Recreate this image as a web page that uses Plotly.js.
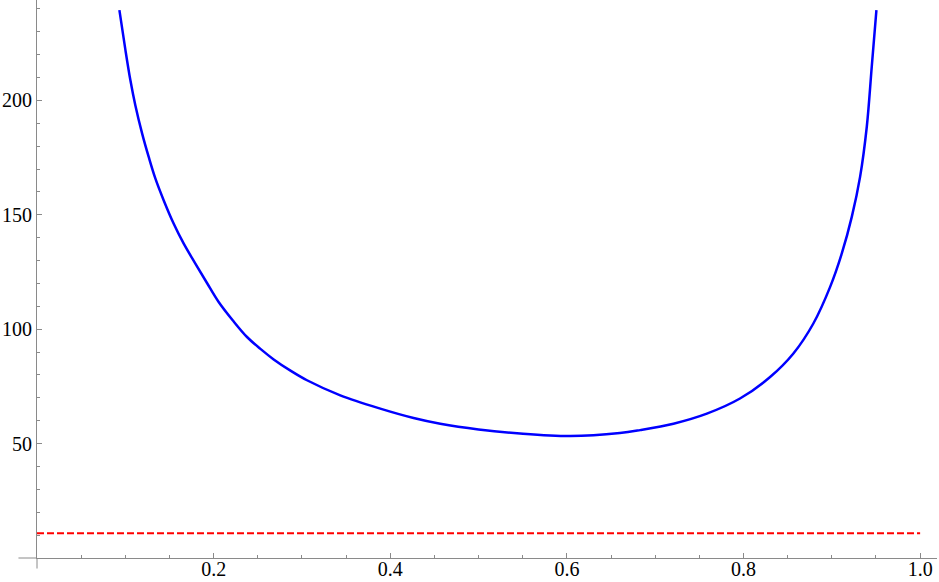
<!DOCTYPE html>
<html>
<head>
<meta charset="utf-8">
<script src="https://cdn.plot.ly/plotly-3.0.1.min.js"></script>
<style>html,body{margin:0;padding:0;background:#fff;}#chart{width:939px;height:582px;}</style>
</head>
<body>
<div id="chart"></div>
<script>
// Blue curve
const curveX = [0.0933, 0.1001, 0.1057, 0.1114, 0.1190, 0.1264, 0.1340, 0.1434, 0.1547, 0.1660, 0.1793, 0.1925, 0.2057, 0.2218, 0.2378, 0.2530, 0.268, 0.2870, 0.3057, 0.3434, 0.3887, 0.4264, 0.4566, 0.50, 0.547, 0.604, 0.660, 0.683, 0.7207, 0.7585, 0.796, 0.8301, 0.8565, 0.8791, 0.8981, 0.9113, 0.9226, 0.9320, 0.9396, 0.9452, 0.9505];
const curveY = [239.5, 222.1, 208.9, 197.8, 185.6, 175.4, 165.9, 156.4, 146.2, 137.5, 128.7, 120.2, 111.9, 103.8, 96.6, 91.4, 86.8, 81.9, 77.7, 71.1, 65.3, 61.2, 58.7, 56.2, 54.4, 53.3, 54.6, 55.9, 58.7, 63.1, 69.7, 79.1, 89.4, 102.5, 118.5, 133.1, 149.1, 166.6, 188.5, 214.7, 239.5];
// Red dashed reference level
const refX = [0, 1.0];
const refY = [10.8, 10.8];
// Tick labels
const xTicks = [0.2, 0.4, 0.6, 0.8, 1.0];
const xTickText = ['0.2', '0.4', '0.6', '0.8', '1.0'];
const yTicks = [50, 100, 150, 200];
const yTickText = ['50', '100', '150', '200'];

const xMax = 1.0191, yMax = 243.9;
const xExt = -0.021, yExt = -4.6;
const axisCol = '#8a8a8a';
const font = {family: '"Liberation Serif", "Times New Roman", serif', size: 20, color: '#000'};

const traces = [
  {x: refX, y: refY, mode: 'lines', line: {color: '#ff0000', width: 2, dash: '7px,3px'}, hoverinfo: 'skip'},
  {x: curveX, y: curveY, mode: 'lines', line: {color: '#0000ff', width: 2.5, shape: 'spline', smoothing: 1}, hoverinfo: 'skip'}
];

const layout = {
  width: 939, height: 582,
  margin: {l: 37, r: 2, t: 0, b: 24},
  paper_bgcolor: '#fff', plot_bgcolor: '#fff',
  showlegend: false,
  font: font,
  xaxis: {
    range: [0, xMax], showgrid: false, zeroline: false,
    showline: true, linecolor: axisCol, linewidth: 1,
    ticks: 'inside', ticklen: 5, tickcolor: axisCol, tickwidth: 1,
    tickvals: xTicks, ticktext: xTickText, tickfont: {family: font.family, size: 20, color: '#000'},
    ticklabelstandoff: -7,
    minor: {dtick: 0.05, tick0: 0, ticks: 'inside', ticklen: 3, tickcolor: axisCol, showgrid: false},
    fixedrange: true
  },
  yaxis: {
    range: [0, yMax], showgrid: false, zeroline: false,
    showline: true, linecolor: axisCol, linewidth: 1,
    ticks: 'inside', ticklen: 5, tickcolor: axisCol, tickwidth: 1,
    tickvals: yTicks, ticktext: yTickText, tickfont: {family: font.family, size: 20, color: '#000'},
    minor: {dtick: 10, tick0: 0, ticks: 'inside', ticklen: 3, tickcolor: axisCol, showgrid: false},
    fixedrange: true
  },
  shapes: [
    {type: 'line', xref: 'paper', yref: 'paper', x0: xExt / xMax, x1: 0, y0: 0, y1: 0, line: {color: axisCol, width: 1}, layer: 'above'},
    {type: 'line', xref: 'paper', yref: 'paper', x0: 0, x1: 0, y0: yExt / yMax, y1: 0, line: {color: axisCol, width: 1}, layer: 'above'}
  ]
};

Plotly.newPlot('chart', traces, layout, {displayModeBar: false, staticPlot: true});
</script>
</body>
</html>
